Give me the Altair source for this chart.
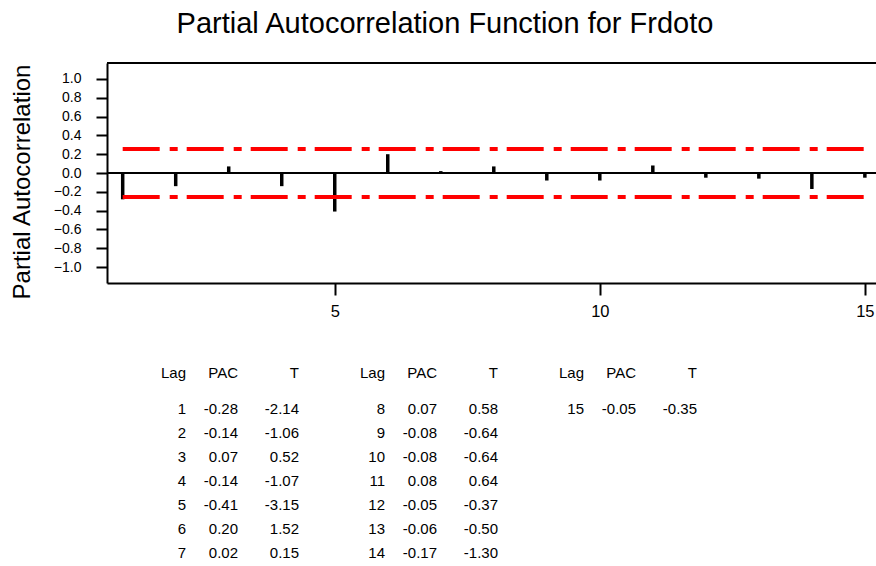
import altair as alt
import pandas as pd

# ---------------- data ----------------
lags = list(range(1, 16))
pac = [-0.28, -0.14, 0.07, -0.14, -0.41, 0.20, 0.02, 0.07, -0.08, -0.08,
       0.08, -0.05, -0.06, -0.17, -0.05]
tval = [-2.14, -1.06, 0.52, -1.07, -3.15, 1.52, 0.15, 0.58, -0.64, -0.64,
        0.64, -0.37, -0.50, -1.30, -0.35]
conf_limits = [0.255, -0.255]
y_ticks = [-1.0, -0.8, -0.6, -0.4, -0.2, 0.0, 0.2, 0.4, 0.6, 0.8, 1.0]
x_ticks = [5, 10, 15]
headers = ["Lag", "PAC", "T"]
title_text = "Partial Autocorrelation Function for Frdoto"
y_title = "Partial Autocorrelation"

# ---------------- layout ----------------
FONT = "Liberation Sans, Arial, Helvetica, sans-serif"
W, H = 769, 220
Y_DOM = [-1.17, 1.17]
X_DOM = [0.704, 15.21]
ROWS_PER_COL = 7
GROUP_DX = 199
COL_DX = [0, 52, 113]
FIRST_COL_X = 79
HEADER_Y = 314.5
ROW0_Y = 351.4
ROW_DY = 24


def xs():
    return alt.Scale(domain=X_DOM, nice=False, zero=False)


def ys():
    return alt.Scale(domain=Y_DOM, nice=False, zero=False)


df = pd.DataFrame({"lag": lags, "pac": pac})
lim_df = pd.DataFrame({"limit": conf_limits,
                       "x1": [min(lags)] * len(conf_limits),
                       "x2": [max(lags)] * len(conf_limits)})

top_rule = alt.Chart(pd.DataFrame({"v": [Y_DOM[1]]})).mark_rule(
    color="black", strokeWidth=2
).encode(y=alt.Y("v:Q", scale=ys(), axis=None))

zero_rule = alt.Chart(pd.DataFrame({"v": [0.0]})).mark_rule(
    color="black", strokeWidth=2
).encode(y=alt.Y("v:Q", scale=ys(), axis=None))

bars = alt.Chart(df).mark_rule(color="black", strokeWidth=3.5, strokeCap="butt").encode(
    x=alt.X("lag:Q", scale=xs(),
            axis=alt.Axis(values=x_ticks, format="d", title=None, grid=False,
                          tickSize=12, tickWidth=2, tickColor="black",
                          domainColor="black", domainWidth=2,
                          labelFontSize=16.5, labelPadding=8, labelColor="black",
                          labelFlush=False, labelFont=FONT)),
    y=alt.Y("pac:Q", scale=ys(),
            axis=alt.Axis(values=y_ticks, format=".1f", title=y_title, grid=False,
                          tickSize=11, tickWidth=2, tickColor="black",
                          domainColor="black", domainWidth=2,
                          labelFontSize=14, labelPadding=15, labelColor="black",
                          labelFont=FONT, titleFont=FONT,
                          titleFontSize=24, titleFontWeight="normal", titleColor="black",
                          titleAngle=270, titleX=-78, titleY=118.5,
                          titleAlign="center", titleBaseline="alphabetic")),
    y2=alt.datum(0),
)

red = alt.Chart(lim_df).mark_rule(
    color="#ff0000", strokeWidth=4, strokeDash=[37, 10, 8, 9], strokeCap="butt"
).encode(
    x=alt.X("x1:Q", scale=xs(), axis=None),
    x2="x2:Q",
    y=alt.Y("limit:Q", scale=ys(), axis=None),
)

# ---------------- table ----------------
cells = []
n_groups = (len(lags) + ROWS_PER_COL - 1) // ROWS_PER_COL
for g in range(n_groups):
    for c, h in enumerate(headers):
        cells.append({"txt": h, "px": FIRST_COL_X + GROUP_DX * g + COL_DX[c], "py": HEADER_Y})
for k, (lg, p, t) in enumerate(zip(lags, pac, tval)):
    g, r = divmod(k, ROWS_PER_COL)
    vals = [str(lg), f"{p:.2f}", f"{t:.2f}"]
    for c, v in enumerate(vals):
        cells.append({"txt": v, "px": FIRST_COL_X + GROUP_DX * g + COL_DX[c],
                      "py": ROW0_Y + ROW_DY * r})
tdf = pd.DataFrame(cells)

table = alt.Chart(tdf).mark_text(
    align="right", baseline="alphabetic", fontSize=15, font=FONT, color="black"
).encode(
    x=alt.X("px:Q", scale=alt.Scale(domain=[0, W], nice=False, zero=False), axis=None),
    y=alt.Y("py:Q", scale=alt.Scale(domain=[0, H], nice=False, zero=False, reverse=True), axis=None),
    text="txt:N",
)

chart = alt.layer(top_rule, zero_rule, bars, red, table).resolve_scale(
    x="independent", y="independent"
).properties(
    width=W, height=H,
    autosize="none",
    background="white",
    padding={"left": 107, "top": 63, "right": 0, "bottom": 283},
    title=alt.TitleParams(text=title_text, fontSize=29, font=FONT, fontWeight="normal",
                          color="black", anchor="middle", frame="group", dx=-46.5,
                          offset=0, baseline="alphabetic"),
).configure_view(stroke=None)

chart.save("out.html", embed_options={"renderer": "svg", "actions": False})
